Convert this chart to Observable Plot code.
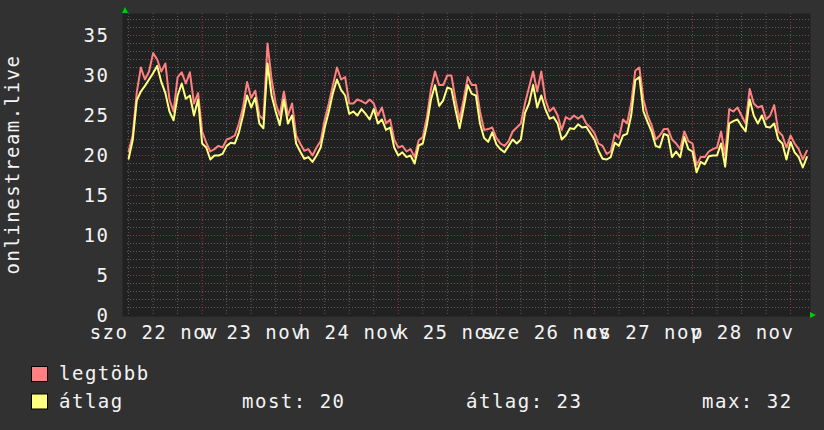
<!DOCTYPE html>
<html><head><meta charset="utf-8">
<script src="https://cdn.jsdelivr.net/npm/d3@7"></script>
<script src="https://cdn.jsdelivr.net/npm/@observablehq/plot@0.6"></script>
<style>
html,body{margin:0;padding:0;background:#313131;}
#chart svg{display:block;}
#chart svg text{letter-spacing:1.5px;}
</style></head><body><div id="chart"></div>
<script>
const yAxisTitle = "onlinestream.live";
const firstSample = "2025-11-21T06:00:00Z"; // hourly samples
const maxValues = [
 20.5,22.5,27.9,31,29.5,30.5,32.8,32,30.5,31.5,27,25.5,29.8,30.4,29,30.4,26.5,27.8,
 23,21.6,20.5,20.8,21.2,21,22,22.2,22.5,24,26,29.2,27.2,28.1,25,24.5,34,29.5,26.5,25,28,25,26.5,22.5,
 21.5,20.6,20.8,20,21,21.8,24.5,26.5,28.8,31,29.5,29.8,26.5,26.5,27,26.8,26.5,27,26.5,25,26,24,24.5,22,
 21,21.2,20.5,20.8,19.8,21.9,22.3,24.8,28.3,30.5,28.8,28.8,30,30,27,24.5,27,29.8,28.8,28.8,25.5,23.2,23.3,23.5,
 22.2,21.5,21.2,21.8,23,23.5,24,26.5,28.5,30.5,28,30.5,27,25.5,26,25,23.2,24.8,24.5,25,24.6,25,24,23.5,
 22.8,21.5,21.2,20.2,20.5,22.7,22.2,24.5,24,26.5,30.6,31,27,25,23.8,22,22.5,23.3,23.3,22,21.5,20.8,23,21.8,
 21.5,18.8,19.8,19.8,20.5,20.8,21,23,20,25.8,25.5,26,25,24,28.3,26.5,26,26.2,24.5,25,26.3,23,22.5,21,
 22.5,21.5,20.8,19.5,20.6
];
const avgValues = [
 19.6,21.9,26.9,28,28.7,29.5,30.3,31.2,29.2,27.8,25.5,24.4,27.5,29,27.1,27.5,25,27,
 21.5,21,19.5,20,20,20.2,21.2,21.6,21.5,22.9,25,27.5,26,27.2,24,23.4,31.5,27.5,25.5,23.8,27,24,25,21.5,
 20.5,19.6,19.8,19.2,20,21,23.5,25.5,27.8,29.5,28.2,27.5,25.2,25.5,25,25.8,25.2,24.5,25.8,24,24.5,23.2,23.5,21,
 20,20.4,19.8,20,19,21.25,21.5,23.8,27,28.8,26.2,26.9,28.5,28.3,25.7,23.4,26,28.8,27.7,27.5,24,22.2,21.7,22.9,
 21.4,20.8,20.4,21.2,22,21.5,22,25.3,26.5,28.8,26,27.5,25.8,24.6,24.8,24,22,22.5,23.4,23.3,23.9,23.5,23.6,22.8,
 22,20.6,19.6,19.5,19.8,21.6,21.2,22.5,22.7,25,29.4,29.8,25.5,24.2,23,21.2,21,22.7,22.5,19.8,20.5,19.8,22.3,20.8,
 20.5,17.9,19.2,18.9,19.9,20,20,21.5,18.6,24,24.3,24.5,23.7,23,27,25,24,25,23.6,23.5,24,22,21.5,19.5,
 21.7,20.4,19.8,18.5,19.8
];
const dayDates = ["2025-11-22","2025-11-23","2025-11-24","2025-11-25","2025-11-26","2025-11-27","2025-11-28"];
const dayLabels = ["szo 22 nov","v 23 nov","h 24 nov","k 25 nov","sze 26 nov","cs 27 nov","p 28 nov"];
const yTicks = [0,5,10,15,20,25,30,35];
const seriesNames = ["legtöbb","átlag"];
const seriesColors = ["#ff8080","#ffff80"];
const statLabels = ["most: 20","átlag: 23","max: 32"];

const H = 3600e3;
const t0 = Date.parse(firstSample);
const base = Date.parse("2025-11-22T00:00:00Z");
const xDomain = [new Date(base - 18.27*H), new Date(base + 148.64*H)];
const data = avgValues.map((v,i)=>({t:new Date(t0+i*H), avg:v, max:maxValues[i]}));

const minorY = d3.range(1,38).filter(v=>v%5!==0);
const majorY = d3.range(5,38,5);
const sixH = d3.range(0,28).map(k=>new Date(t0 + k*6*H));
const majorX = sixH.filter(d=>d.getUTCHours()===0);
const minorX = sixH.filter(d=>d.getUTCHours()!==0);

const textColor = "#f4f4f4";
const chart = Plot.plot({
  width:824, height:430,
  marginLeft:127, marginRight:15, marginTop:13, marginBottom:115,
  style:{background:"#313131", color:textColor, fontFamily:"'DejaVu Sans Mono', monospace", fontSize:"19px"},
  x:{type:"utc", domain:xDomain, axis:null},
  y:{domain:[0,37.75], axis:null},
  marks:[
    Plot.frame({fill:"#212121", stroke:null, insetLeft:-5, insetRight:-1, insetBottom:-1}),
    Plot.ruleY(minorY,{stroke:"#5c5c5c", strokeDasharray:"1,2"}),
    Plot.ruleX(minorX,{stroke:"#5c5c5c", strokeDasharray:"1,2"}),
    Plot.ruleY(majorY,{stroke:"#9a3b3b", strokeDasharray:"1,2"}),
    Plot.ruleX(majorX,{stroke:"#9a3b3b", strokeDasharray:"1,2"}),
    Plot.line(data,{x:"t", y:"max", stroke:seriesColors[0], strokeWidth:2}),
    Plot.line(data,{x:"t", y:"avg", stroke:seriesColors[1], strokeWidth:2}),
    Plot.axisY(yTicks,{tickSize:0, tickPadding:18, label:null, fill:textColor, fontSize:19}),
    Plot.text(dayLabels,{x:(d,i)=>new Date(Date.parse(dayDates[i]+"T00:00:00Z") - 11.7*H), y:0, dy:23,
      lineAnchor:"bottom", textAnchor:"middle", fill:textColor, fontSize:19}),
    Plot.text([yAxisTitle],{frameAnchor:"left", rotate:-90, dx:-108.5, lineAnchor:"bottom", textAnchor:"middle", fill:textColor, fontSize:19})
  ]
});
document.getElementById("chart").appendChild(chart);

const svg = d3.select(chart);
svg.append("polygon").attr("points","122,13 128,13 125,7").attr("fill","#00cc00");
svg.append("polygon").attr("points","810,312 810,318 816,315").attr("fill","#00cc00");
const lg = svg.append("g").attr("font-family","'DejaVu Sans Mono', monospace").attr("font-size",19)
  .attr("fill",textColor).attr("text-anchor","start");
seriesNames.forEach((n,i)=>{
  lg.append("rect").attr("x",31.5).attr("y",366.5+i*27.5).attr("width",16).attr("height",15)
    .attr("fill",seriesColors[i]).attr("stroke","#000").attr("stroke-width",1);
  lg.append("text").attr("x",59).attr("y",380+i*28).text(n);
});
const statX = [242,466,702];
statLabels.forEach((s,i)=>lg.append("text").attr("x",statX[i]).attr("y",408).text(s));
</script></body></html>
